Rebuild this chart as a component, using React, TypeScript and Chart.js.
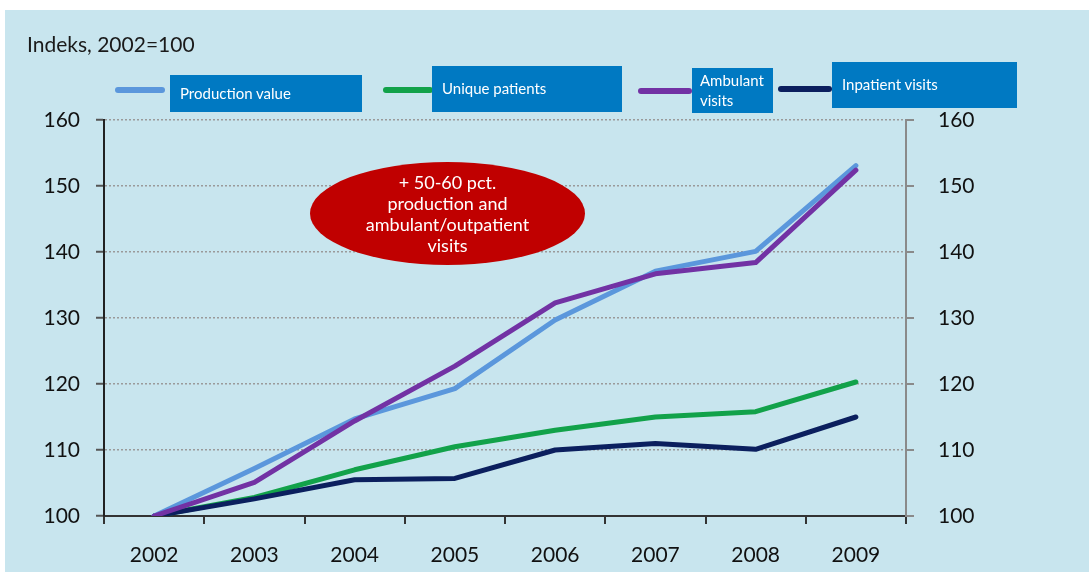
import React, { useEffect, useRef } from "react";
import { Chart, registerables } from "chart.js";

Chart.register(...registerables);

const categories = ["2002", "2003", "2004", "2005", "2006", "2007", "2008", "2009"];
const productionValue = [100, 107.2, 114.7, 119.3, 129.7, 137.1, 140.1, 153.1];
const uniquePatients = [100, 102.8, 107.0, 110.5, 113.0, 115.0, 115.8, 120.3];
const ambulantVisits = [100, 105.1, 114.4, 122.7, 132.3, 136.7, 138.4, 152.4];
const inpatientVisits = [100, 102.6, 105.5, 105.7, 110.0, 111.0, 110.1, 115.0];
const yTicks = [100, 110, 120, 130, 140, 150, 160];

const title = "Indeks, 2002=100";
const calloutLines = ["+ 50-60 pct.", "production and", "ambulant/outpatient", "visits"];

const COLORS = {
  production: "#5b97dc",
  unique: "#12a24a",
  ambulant: "#7232a4",
  inpatient: "#0b1f5e",
};

const legendItems = [
  { lines: ["Production value"], color: COLORS.production, sw: [115, 90, 50], box: [170, 75, 192, 37], tx: [180, 83] },
  { lines: ["Unique patients"], color: COLORS.unique, sw: [383, 90, 50], box: [432, 66, 190, 46], tx: [442, 78] },
  { lines: ["Ambulant", "visits"], color: COLORS.ambulant, sw: [638, 91, 54], box: [692, 68, 81, 45], tx: [700, 70] },
  { lines: ["Inpatient visits"], color: COLORS.inpatient, sw: [778, 89, 54], box: [832, 62, 185, 46], tx: [842, 74] },
];

const FONT = "Lato, 'Open Sans', sans-serif";

export default function App() {
  const ref = useRef<HTMLCanvasElement | null>(null);

  useEffect(() => {
    if (!ref.current) return;
    const mk = (label: string, data: number[], color: string, order: number) => ({
      label,
      data,
      borderColor: color,
      backgroundColor: color,
      borderWidth: 5,
      pointRadius: 0,
      tension: 0,
      borderCapStyle: "round" as const,
      borderJoinStyle: "round" as const,
      order,
      yAxisID: "y",
    });
    const chart = new Chart(ref.current, {
      type: "line",
      data: {
        labels: categories,
        datasets: [
          mk("Ambulant visits", ambulantVisits, COLORS.ambulant, 1),
          mk("Production value", productionValue, COLORS.production, 2),
          mk("Inpatient visits", inpatientVisits, COLORS.inpatient, 3),
          mk("Unique patients", uniquePatients, COLORS.unique, 4),
        ],
      },
      options: {
        responsive: false,
        animation: false,
        devicePixelRatio: 1,
        layout: { padding: { left: 0, right: 0, top: 120, bottom: 0 } },
        plugins: { legend: { display: false }, title: { display: false }, tooltip: { enabled: false } },
        scales: {
          x: {
            type: "category",
            offset: true,
            grid: {
              offset: true,
              drawOnChartArea: false,
              tickLength: 8,
              color: "#333",
              lineWidth: 2,
            },
            border: { color: "#333", width: 2 },
            ticks: { color: "#111", font: { family: FONT, size: 21 }, padding: 19 },
            afterFit: (s: any) => {
              s.height = 56;
            },
          },
          y: {
            position: "left",
            min: 100,
            max: 160,
            afterBuildTicks: (s: any) => {
              s.ticks = yTicks.map((v) => ({ value: v }));
            },
            grid: {
              color: "#9a9a9a",
              lineWidth: 1.5,
              tickLength: 8,
              tickColor: "#555",
              tickWidth: 2,
              tickBorderDash: [],
            },
            border: { color: "#222", width: 2, dash: [2, 2] },
            ticks: { color: "#111", font: { family: FONT, size: 21 }, padding: 16 },
            afterFit: (s: any) => {
              s.width = 104;
            },
          },
          y1: {
            position: "right",
            min: 100,
            max: 160,
            afterBuildTicks: (s: any) => {
              s.ticks = yTicks.map((v) => ({ value: v }));
            },
            grid: {
              drawOnChartArea: false,
              tickLength: 8,
              color: "#8a8a8a",
              lineWidth: 2,
            },
            border: { color: "#8a8a8a", width: 2 },
            ticks: { color: "#111", font: { family: FONT, size: 21 }, padding: 24 },
            afterFit: (s: any) => {
              s.width = 183;
            },
          },
        },
      },
    });
    return () => chart.destroy();
  }, []);

  return (
    <div style={{ position: "fixed", left: 0, top: 0, width: 1089, height: 572, background: "#fff", overflow: "hidden", fontFamily: FONT }}>
      <div style={{ position: "absolute", left: 5, top: 10, right: 0, bottom: 0, background: "#c8e5ee" }} />
      <canvas ref={ref} width={1089} height={572} style={{ position: "absolute", left: 0, top: 0, width: 1089, height: 572 }} />
      <div style={{ position: "absolute", left: 27, top: 31, fontSize: 21, color: "#1a1a1a", whiteSpace: "nowrap", lineHeight: "26px" }}>{title}</div>
      {legendItems.map((it, i) => (
        <React.Fragment key={i}>
          <div
            style={{
              position: "absolute",
              left: it.sw[0],
              top: it.sw[1] - 3,
              width: it.sw[2],
              height: 6,
              borderRadius: 3,
              background: it.color,
            }}
          />
          <div
            style={{
              position: "absolute",
              left: it.box[0],
              top: it.box[1],
              width: it.box[2],
              height: it.box[3],
              background: "#0079c2",
            }}
          />
          <div
            style={{
              position: "absolute",
              left: it.tx[0],
              top: it.tx[1],
              color: "#fff",
              fontSize: 15,
              lineHeight: "20px",
              whiteSpace: "nowrap",
            }}
          >
            {it.lines.map((l, j) => (
              <div key={j}>{l}</div>
            ))}
          </div>
        </React.Fragment>
      ))}
      <div
        style={{
          position: "absolute",
          left: 310,
          top: 162,
          width: 275,
          height: 103,
          borderRadius: "50%",
          background: "#c00000",
          color: "#fff",
          fontSize: 18,
          lineHeight: "21px",
          textAlign: "center",
          display: "flex",
          flexDirection: "column",
          justifyContent: "center",
          alignItems: "center",
        }}
      >
        {calloutLines.map((l, j) => (
          <div key={j}>{l}</div>
        ))}
      </div>
    </div>
  );
}
